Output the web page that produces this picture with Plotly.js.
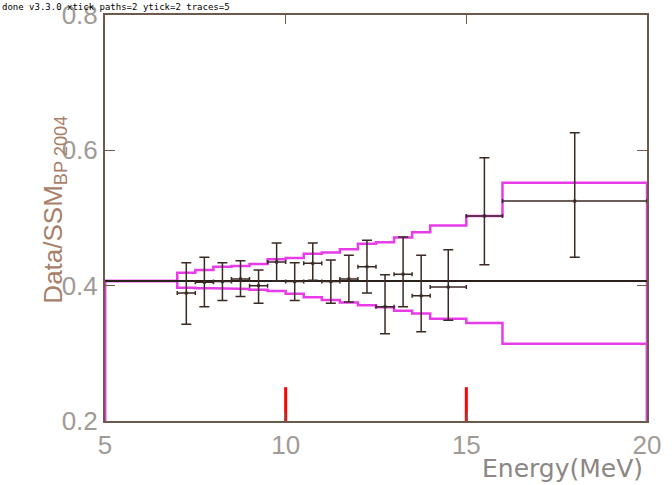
<!DOCTYPE html>
<html>
<head>
<meta charset="utf-8">
<script src="https://cdn.plot.ly/plotly-3.0.1.min.js"></script>
<style>html,body{margin:0;padding:0;background:#fff;}#chart{width:672px;height:485px;}#dbg{position:absolute;left:2px;top:2px;font:9px monospace;color:#000;width:660px;white-space:pre-wrap;}</style>
</head>
<body>
<div id="chart"></div>
<div id="dbg"></div>
<script>
const dbg = [];
function show() { document.getElementById('dbg').textContent = dbg.join('\n'); }
window.addEventListener('error', e => { dbg.push('ERR ' + e.message); show(); });
window.addEventListener('unhandledrejection', e => { dbg.push('REJ ' + (e.reason && (e.reason.stack || e.reason.message) || e.reason)); show(); });

// Data points: energy bin centres (MeV), half bin widths, Data/SSM ratio and errors
const energy = [7.25, 7.75, 8.25, 8.75, 9.25, 9.75, 10.25, 10.75, 11.25, 11.75, 12.25, 12.75, 13.25, 13.75, 14.5, 15.5, 18.0];
const halfWidth = [0.25, 0.25, 0.25, 0.25, 0.25, 0.25, 0.25, 0.25, 0.25, 0.25, 0.25, 0.25, 0.25, 0.25, 0.5, 0.5, 2.0];
const ratio = [0.389, 0.405, 0.406, 0.410, 0.400, 0.435, 0.406, 0.433, 0.406, 0.410, 0.428, 0.369, 0.417, 0.385, 0.398, 0.503, 0.525];
const errUp = [0.045, 0.037, 0.028, 0.027, 0.023, 0.028, 0.028, 0.030, 0.032, 0.035, 0.039, 0.047, 0.055, 0.060, 0.055, 0.086, 0.101];
const errDown = [0.046, 0.036, 0.028, 0.026, 0.026, 0.028, 0.028, 0.025, 0.032, 0.034, 0.039, 0.040, 0.048, 0.053, 0.049, 0.072, 0.083];
const flatRatio = 0.407;
const bandEdges = [5, 7, 7.5, 8, 8.5, 9, 9.5, 10, 10.5, 11, 11.5, 12, 12.5, 13, 13.5, 14, 15, 16, 20];
const bandUpper = [0.407, 0.419, 0.423, 0.428, 0.429, 0.432, 0.439, 0.441, 0.447, 0.449, 0.454, 0.462, 0.464, 0.471, 0.479, 0.489, 0.503, 0.552];
const bandLower = [0.407, 0.397, 0.396, 0.396, 0.395, 0.394, 0.392, 0.388, 0.383, 0.379, 0.375, 0.371, 0.368, 0.363, 0.359, 0.351, 0.345, 0.314];
const xTicks = [5, 10, 15, 20];
const yTicks = [0.2, 0.4, 0.6, 0.8];

function histPath(edges, vals) {
  const x = [edges[0]], y = [0];
  for (let i = 0; i < vals.length; i++) { x.push(edges[i], edges[i + 1]); y.push(vals[i], vals[i]); }
  x.push(edges[edges.length - 1]); y.push(0);
  return {x, y};
}
const up = histPath(bandEdges, bandUpper);
const lo = histPath(bandEdges, bandLower);
const magenta = '#e83ce8', dark = '#3a2a24', axisLine = '#6e5a4c';
const xRange = [5, 20], yRange = [0.2, 0.8];

const traces = [
  {x: lo.x, y: lo.y, mode: 'lines', line: {color: magenta, width: 2.5}},
  {x: up.x, y: up.y, mode: 'lines', line: {color: magenta, width: 2.5}},
  {x: xRange, y: [flatRatio, flatRatio], mode: 'lines', line: {color: '#2a201c', width: 2}},
  {x: energy, y: ratio, mode: 'markers', marker: {color: dark, size: 3, symbol: 'square'},
    error_y: {type: 'data', symmetric: false, array: errUp, arrayminus: errDown, color: dark, thickness: 1.5, width: 5},
    error_x: {type: 'data', array: halfWidth, color: dark, thickness: 1.5, width: 2}},
  {x: [10, 10, null, 15, 15], y: [0.2, 0.25, null, 0.2, 0.25], mode: 'lines', line: {color: 'red', width: 3}}
];
const tickFont = {family: 'Liberation Sans, Arial, sans-serif', size: 26, color: '#a09a96'};
const layout = {
  width: 672, height: 485, margin: {l: 105, r: 25, t: 15, b: 64},
  showlegend: false,
  xaxis: {range: xRange, tickmode: 'linear', tick0: 5, dtick: 5, ticks: 'inside', ticklen: 9, tickwidth: 1.5, tickcolor: axisLine,
    showline: true, linecolor: axisLine, linewidth: 2, mirror: 'allticks', showgrid: false, zeroline: false, tickfont: tickFont},
  yaxis: {range: yRange, tickmode: 'linear', tick0: 0.2, dtick: 0.2, ticks: 'inside', ticklen: 10, tickwidth: 1.5, tickcolor: axisLine,
    showline: true, linecolor: axisLine, linewidth: 2, mirror: 'allticks', showgrid: false, zeroline: false, tickfont: tickFont},
  annotations: [
    {text: 'Data/SSM<sub>BP 2004</sub>', textangle: -90, showarrow: false, xref: 'paper', yref: 'paper', x: -0.129, y: 0.756,
      font: {family: 'Liberation Sans, Arial, sans-serif', size: 26, color: '#a8806a'}},
    {text: 'Energy(MeV)', showarrow: false, xref: 'paper', yref: 'paper', x: 0.9963, y: -0.076, xanchor: 'right', yanchor: 'top',
      font: {family: 'DejaVu Sans, sans-serif', size: 25, color: '#8c8686'}}
  ]
};
try {
  Plotly.newPlot('chart', traces, layout, {staticPlot: true}).then(() => {
    dbg.push('done v' + Plotly.version + ' xtick paths=' + document.querySelectorAll('path.xtick').length + ' ytick=' + document.querySelectorAll('path.ytick').length + ' traces=' + document.querySelectorAll('.scatterlayer .trace').length);
    show();
  }).catch(e => { dbg.push('CATCH ' + (e.stack || e)); show(); });
} catch (e) { dbg.push('THROW ' + (e.stack || e)); show(); }
</script>
</body>
</html>
